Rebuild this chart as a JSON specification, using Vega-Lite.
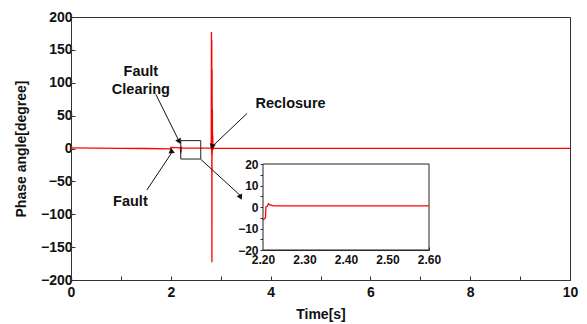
{
  "$schema": "https://vega.github.io/schema/vega-lite/v6.json",
  "width": 499,
  "height": 263,
  "autosize": {"type": "none"},
  "padding": {"left": 71, "top": 17, "right": 17, "bottom": 44},
  "background": "white",
  "config": {
    "view": {"stroke": "#333", "strokeWidth": 1},
    "font": "Liberation Sans",
    "axis": {
      "labelFont": "Liberation Sans",
      "labelFontWeight": "bold",
      "titleFont": "Liberation Sans",
      "titleFontWeight": "bold",
      "domainColor": "#333",
      "tickColor": "#333",
      "labelColor": "#111",
      "titleColor": "#111",
      "labelOverlap": false,
      "grid": false
    }
  },
  "datasets": {
    "phase": [
      {"x": 0, "y": 1.0}, {"x": 0.5, "y": 0.7}, {"x": 1.0, "y": 0.3}, {"x": 1.5, "y": 0.0},
      {"x": 2.0, "y": -0.5}, {"x": 2.001, "y": 1.5}, {"x": 2.1, "y": 1.2}, {"x": 2.19, "y": 1.0},
      {"x": 2.2, "y": -6}, {"x": 2.206, "y": -5}, {"x": 2.207, "y": 0}, {"x": 2.21, "y": 0.2},
      {"x": 2.213, "y": 1.5}, {"x": 2.217, "y": 1.0}, {"x": 2.225, "y": 0.5}, {"x": 2.6, "y": 0.5},
      {"x": 2.8, "y": 0.5}, {"x": 2.81, "y": 0.5}, {"x": 2.815, "y": 177}, {"x": 2.818, "y": -7},
      {"x": 2.821, "y": 165}, {"x": 2.824, "y": -173}, {"x": 2.827, "y": 120}, {"x": 2.83, "y": -10},
      {"x": 2.833, "y": 60}, {"x": 2.836, "y": 5}, {"x": 2.84, "y": 20}, {"x": 2.845, "y": -2},
      {"x": 2.85, "y": 4}, {"x": 2.86, "y": 0.3}, {"x": 10, "y": 0.3}
    ],
    "zoombox": [{"x": 2.2, "x2": 2.6, "y": 12, "y2": -16}],
    "arrows": [
      {"name": "clearing", "x0": 1.70, "y0": 82.4, "x": 2.17, "y": 10.5},
      {"name": "fault", "x0": 1.52, "y0": -63.1, "x": 2.03, "y": -5.0},
      {"name": "reclosure", "x0": 3.53, "y0": 53.5, "x": 2.85, "y": 4.5},
      {"name": "inset", "x0": 2.60, "y0": -16.4, "x": 3.40, "y": -72.0}
    ],
    "labels": [
      {"x": 1.40, "y": 116, "text": "Fault\nClearing"},
      {"x": 1.19, "y": -81.4, "text": "Fault"},
      {"x": 4.40, "y": 67.7, "text": "Reclosure"}
    ],
    "insetbox": [{"x": 2.2, "x2": 2.6, "y": -20, "y2": 20}]
  },
  "layer": [
    {
      "layer": [
        {
          "data": {"name": "phase"},
          "mark": {"type": "line", "color": "#ff0000", "strokeWidth": 1.3, "clip": true},
          "encoding": {
            "x": {
              "field": "x", "type": "quantitative",
              "scale": {"domain": [0, 10], "nice": false},
              "axis": {
                "title": "Time[s]", "titleFontSize": 14, "titlePadding": 8,
                "tickCount": 10,
                "labelExpr": "datum.value % 2 == 0 ? datum.label : ''",
                "labelFontSize": 14, "tickSize": -4, "labelPadding": 9, "labelFlush": false, "labelOverlap": false
              }
            },
            "y": {
              "field": "y", "type": "quantitative",
              "scale": {"domain": [-200, 200], "nice": false},
              "axis": {
                "title": "Phase angle[degree]", "titleFontSize": 14, "titlePadding": 12,
                "tickCount": 8,
                "labelFontSize": 14, "tickSize": -4, "labelPadding": 3, "labelFlush": false, "labelOverlap": false
              }
            }
          }
        },
        {
          "data": {"name": "zoombox"},
          "mark": {"type": "rect", "fill": null, "fillOpacity": 0, "stroke": "#222", "strokeWidth": 1},
          "encoding": {
            "x": {"field": "x", "type": "quantitative"},
            "x2": {"field": "x2"},
            "y": {"field": "y", "type": "quantitative"},
            "y2": {"field": "y2"}
          }
        },
        {
          "data": {"name": "arrows"},
          "mark": {"type": "rule", "color": "#111", "strokeWidth": 1},
          "encoding": {
            "x": {"field": "x", "type": "quantitative"},
            "y": {"field": "y", "type": "quantitative"},
            "x2": {"field": "x0"},
            "y2": {"field": "y0"}
          }
        },
        {
          "data": {"name": "arrows"},
          "mark": {"type": "point", "shape": "triangle-up", "filled": true, "color": "#111", "opacity": 1, "size": 40},
          "encoding": {
            "x": {"field": "x", "type": "quantitative"},
            "y": {"field": "y", "type": "quantitative"},
            "angle": {
              "field": "name", "type": "nominal",
              "scale": {"domain": ["clearing", "fault", "reclosure", "inset"], "range": [153.6, 33.6, 226.3, 132.8]},
              "legend": null
            }
          }
        },
        {
          "data": {"name": "labels"},
          "mark": {"type": "text", "font": "Liberation Sans", "fontWeight": "bold", "fontSize": 14.5, "color": "#111", "lineBreak": "\n", "lineHeight": 18, "align": "center", "baseline": "middle"},
          "encoding": {
            "x": {"field": "x", "type": "quantitative"},
            "y": {"field": "y", "type": "quantitative"},
            "text": {"field": "text"}
          }
        }
      ]
    },
    {
      "layer": [
        {
          "data": {"name": "insetbox"},
          "mark": {"type": "rect", "fill": "white", "stroke": "#222", "strokeWidth": 1},
          "encoding": {
            "x": {
              "field": "x", "type": "quantitative",
              "scale": {"domain": [2.2, 2.6], "nice": false, "range": [192, 358]},
              "axis": {
                "orient": "bottom", "offset": -30, "title": null,
                "tickCount": 8,
                "labelExpr": "(round(datum.value*100) % 10 == 0) ? format(datum.value, '.2f') : ''",
                "labelFontSize": 12, "tickSize": -3, "labelPadding": 7, "labelDx": 5, "labelFlush": false, "labelOverlap": false
              }
            },
            "x2": {"field": "x2"},
            "y": {
              "field": "y", "type": "quantitative",
              "scale": {"domain": [-20, 20], "nice": false, "range": [233, 147]},
              "axis": {
                "orient": "left", "offset": -192, "title": null,
                "tickCount": 8,
                "labelExpr": "datum.value % 10 == 0 ? datum.label : ''",
                "labelFontSize": 12, "tickSize": 3, "labelPadding": 2, "labelFlush": false, "labelOverlap": false
              }
            },
            "y2": {"field": "y2"}
          }
        },
        {
          "data": {"name": "phase"},
          "transform": [{"filter": "datum.x >= 2.2 && datum.x <= 2.6"}],
          "mark": {"type": "line", "color": "#ff0000", "strokeWidth": 1.3},
          "encoding": {
            "x": {"field": "x", "type": "quantitative"},
            "y": {"field": "y", "type": "quantitative"}
          }
        }
      ]
    }
  ],
  "resolve": {"scale": {"x": "independent", "y": "independent"}}
}
